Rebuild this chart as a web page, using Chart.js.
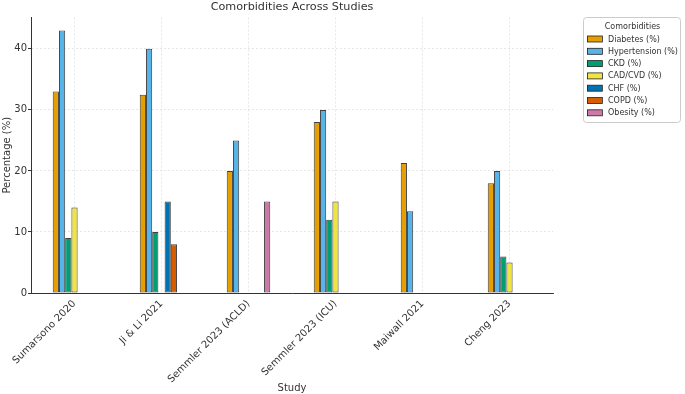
<!DOCTYPE html>
<html>
<head>
<meta charset="utf-8">
<script src="https://cdn.jsdelivr.net/npm/chart.js@4.4.1/dist/chart.umd.min.js"></script>
<style>
  html, body { margin: 0; padding: 0; background: #fff; }
  #wrap { width: 685px; height: 394px; position: relative; }
</style>
</head>
<body>
<div id="wrap"><canvas id="c" width="685" height="394"></canvas></div>
<script>
const studies = ["Sumarsono 2020", "Ji & Li 2021", "Semmler 2023 (ACLD)", "Semmler 2023 (ICU)", "Maiwall 2021", "Cheng 2023"];
const diabetes     = [33, 32.5, 20, 28, 21.3, 18];
const hypertension = [43, 40, 25, 30, 13.4, 20];
const ckd          = [9, 10, null, 12, null, 6];
const cadCvd       = [14, null, null, 15, null, 5];
const chf          = [null, 15, null, null, null, null];
const copd         = [null, 8, null, null, null, null];
const obesity      = [null, null, 15, null, null, null];
const seriesNames  = ["Diabetes (%)", "Hypertension (%)", "CKD (%)", "CAD/CVD (%)", "CHF (%)", "COPD (%)", "Obesity (%)"];
const seriesColors = ["#E69F00", "#56B4E9", "#009E73", "#F0E442", "#0072B2", "#D55E00", "#CC79A7"];
const yTicks = [0, 10, 20, 30, 40];

const seriesData = [diabetes, hypertension, ckd, cadCvd, chf, copd, obesity];
const FONT = "'DejaVu Sans', sans-serif";
const TXT = "#333";

const legendPlugin = {
  id: 'boxLegend',
  afterDraw(chart) {
    const ctx = chart.ctx;
    const x0 = 583, y0 = 17, w = 97, h = 105;
    ctx.save();
    ctx.fillStyle = 'rgba(255,255,255,0.9)';
    ctx.strokeStyle = '#cccccc';
    ctx.lineWidth = 1;
    ctx.beginPath();
    if (ctx.roundRect) ctx.roundRect(x0 + 0.5, y0 + 0.5, w, h, 3); else ctx.rect(x0 + 0.5, y0 + 0.5, w, h);
    ctx.fill(); ctx.stroke();
    ctx.fillStyle = TXT;
    ctx.font = "8px " + FONT;
    ctx.textAlign = 'center';
    ctx.textBaseline = 'middle';
    ctx.fillText('Comorbidities', x0 + w / 2 + 1, y0 + 10);
    ctx.textAlign = 'left';
    for (let i = 0; i < seriesNames.length; i++) {
      const cy = y0 + 22 + i * 12.3;
      ctx.fillStyle = seriesColors[i];
      ctx.fillRect(587, cy - 3, 15, 6);
      ctx.strokeStyle = '#222';
      ctx.lineWidth = 0.8;
      ctx.strokeRect(587.5, cy - 3, 15, 6);
      ctx.fillStyle = TXT;
      ctx.fillText(seriesNames[i], 608, cy + 0.5);
    }
    ctx.restore();
  }
};

new Chart(document.getElementById('c'), {
  type: 'bar',
  data: {
    labels: studies,
    datasets: seriesNames.map((n, i) => ({
      label: n,
      data: seriesData[i],
      backgroundColor: seriesColors[i],
      borderColor: 'rgba(30,30,30,0.85)',
      borderWidth: 1,
      borderSkipped: false,
      categoryPercentage: 0.5,
      barPercentage: 1.0
    }))
  },
  options: {
    responsive: false,
    animation: false,
    devicePixelRatio: 1,
    layout: { padding: { top: 0, right: 132, bottom: 0, left: 0 } },
    plugins: {
      legend: { display: false },
      tooltip: { enabled: false },
      title: {
        display: true,
        text: 'Comorbidities Across Studies',
        fullSize: false,
        color: TXT,
        font: { family: FONT, size: 11.2, weight: 'normal' },
        padding: { top: 0, bottom: 4 }
      }
    },
    scales: {
      x: {
        offset: true,
        grid: { display: true, offset: false, color: '#e0e0e0', lineWidth: 0.8, drawTicks: false },
        border: { display: true, color: '#333', width: 1, dash: [2, 2] },
        ticks: {
          color: TXT, font: { family: FONT, size: 10 },
          maxRotation: 45, minRotation: 45, autoSkip: false, padding: 5
        },
        title: { display: true, text: 'Study', color: TXT, font: { family: FONT, size: 10 }, padding: { top: 0, bottom: 0 } },
        afterFit(scale) { scale.height = 101; }
      },
      y: {
        min: 0,
        max: 45.15,
        afterBuildTicks(scale) { scale.ticks = yTicks.map(v => ({ value: v })); },
        grid: { color: '#e0e0e0', lineWidth: 0.8, drawTicks: true, tickLength: 3, tickColor: '#333', tickWidth: 1 },
        border: { display: true, color: '#333', width: 1, dash: [2, 2] },
        ticks: { color: TXT, font: { family: FONT, size: 10 }, padding: 1 },
        title: { display: true, text: 'Percentage (%)', color: TXT, font: { family: FONT, size: 10 }, padding: { top: 1, bottom: 0 } },
        afterFit(scale) { scale.width = 31; }
      }
    }
  },
  plugins: [legendPlugin]
});
</script>
</body>
</html>
